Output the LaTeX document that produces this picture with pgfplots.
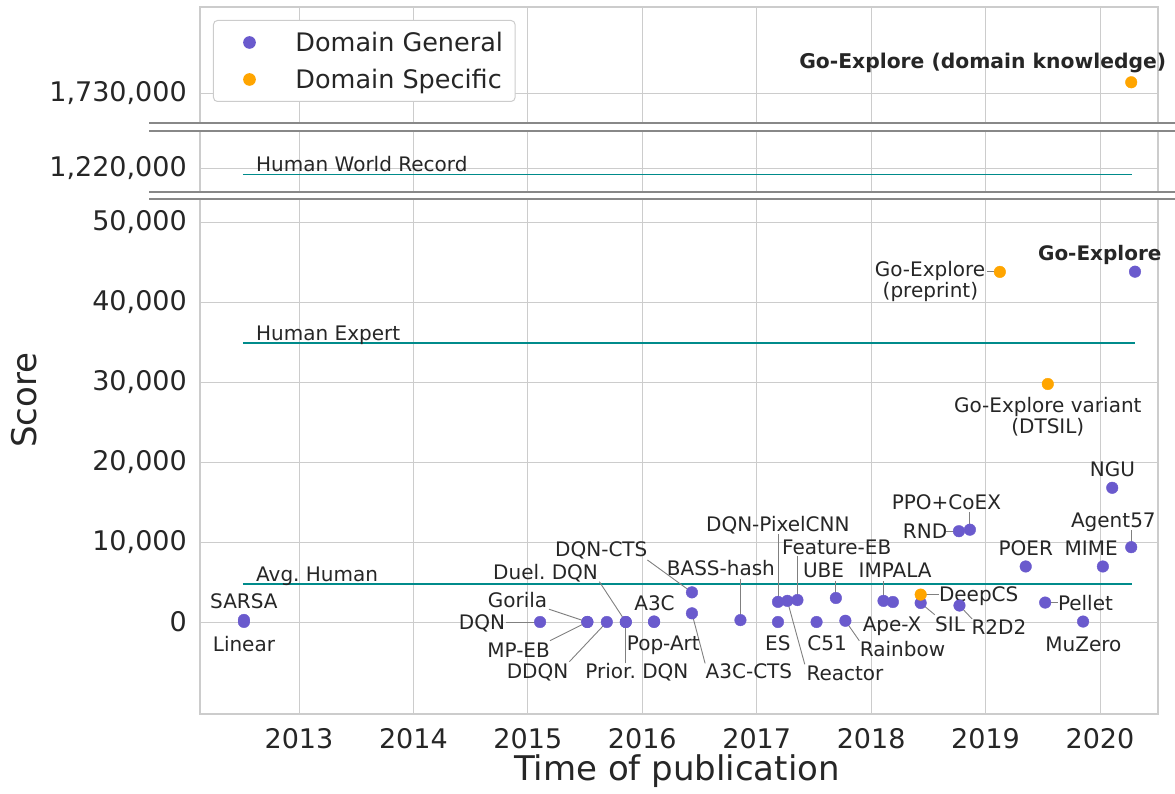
\documentclass[border=0pt]{standalone}
\usepackage{pgfplots}
\pgfplotsset{compat=1.18}
\usepackage{fontspec}
\setmainfont{DejaVu Sans}
\frenchspacing
\definecolor{purp}{HTML}{6A5ACD}
\definecolor{orng}{HTML}{FFA500}
\definecolor{tealc}{HTML}{008B8B}
\definecolor{gridc}{HTML}{CCCCCC}
\definecolor{txt}{HTML}{262626}
\definecolor{brk}{HTML}{888888}
\definecolor{conn}{HTML}{808080}
\newcommand\ann{\fontsize{20}{24}\selectfont}
\newcommand\midlab{1,220,000}
\newcommand\toplab{1,730,000}
\tikzset{
  lab/.style={font=\ann, text=txt, inner sep=0pt, text height=14.6pt, text depth=0pt, anchor=center},
  con/.style={draw=conn, line width=0.9pt},
}
\pgfplotsset{
  base/.style={
    scale only axis, width=958pt, anchor=south west,
    xmin=2012.135, xmax=2020.507,
    xtick={2013,2014,2015,2016,2017,2018,2019,2020},
    scaled y ticks=false, scaled x ticks=false,
    grid=major, major grid style={gridc, line width=0.9pt},
    axis line style={gridc, line width=1.1pt},
    major tick length=0pt,
    tick label style={font=\fontsize{27}{32}\selectfont, text=txt},
    yticklabel style={inner sep=0pt, xshift=-13pt},
    xticklabel style={inner sep=0pt, yshift=-14pt},
    clip=false,
  },
  gen/.style={only marks, mark=*, mark size=5.8pt, color=purp},
  spec/.style={only marks, mark=*, mark size=5.8pt, color=orng},
  hum/.style={no marks, tealc, line width=1.6pt},
}
\begin{document}
\begin{tikzpicture}
% ---------------- bottom panel ----------------
\begin{axis}[base, at={(200pt,79pt)}, height=515pt,
  ymin=-11500, ymax=52875,
  ytick={0,10000,20000,30000,40000,50000},
  yticklabels={0,{10,000},{20,000},{30,000},{40,000},{50,000}},
  xticklabels={2013,2014,2015,2016,2017,2018,2019,2020}]
\addplot[hum] coordinates {(2012.51,4753) (2020.28,4753)};
\addplot[hum] coordinates {(2012.51,34900) (2020.31,34900)};
\node[lab, anchor=west] at (axis cs:2012.624,6000) {Avg. Human};
\node[lab, anchor=west] at (axis cs:2012.624,36125) {Human Expert};
% connectors
\draw[con] (axis cs:2014.81,0) -- (axis cs:2015.107,0);
\draw[con] (axis cs:2015.185,1600) -- (axis cs:2015.52,0);
\draw[con] (axis cs:2015.194,-2330) -- (axis cs:2015.52,0);
\draw[con] (axis cs:2015.363,-4960) -- (axis cs:2015.69,0);
\draw[con] (axis cs:2015.625,5040) -- (axis cs:2015.856,0);
\draw[con] (axis cs:2015.856,-5170) -- (axis cs:2015.856,0);
\draw[con] (axis cs:2016.045,7750) -- (axis cs:2016.434,3705);
\draw[con] (axis cs:2016.549,-5170) -- (axis cs:2016.434,1085);
\draw[con] (axis cs:2016.858,5330) -- (axis cs:2016.858,238);
\draw[con] (axis cs:2017.186,10950) -- (axis cs:2017.186,2514);
\draw[con] (axis cs:2017.356,8190) -- (axis cs:2017.356,2745);
\draw[con] (axis cs:2017.42,-5290) -- (axis cs:2017.268,2643);
\draw[con] (axis cs:2017.692,5170) -- (axis cs:2017.692,3000);
\draw[con] (axis cs:2018.108,5100) -- (axis cs:2018.108,2643);
\draw[con] (axis cs:2017.897,-2350) -- (axis cs:2017.775,154);
\draw[con] (axis cs:2018.433,3425) -- (axis cs:2018.59,3425);
\draw[con] (axis cs:2018.556,910) -- (axis cs:2018.433,2375);
\draw[con] (axis cs:2018.883,375) -- (axis cs:2018.772,2061);
\draw[con] (axis cs:2018.656,11347) -- (axis cs:2018.767,11347);
\draw[con] (axis cs:2018.863,13750) -- (axis cs:2018.863,11540);
\draw[con] (axis cs:2019.521,2430) -- (axis cs:2019.63,2430);
\draw[con] (axis cs:2020.273,11460) -- (axis cs:2020.273,9352);
\draw[con] (axis cs:2019.011,43763) -- (axis cs:2019.125,43763);
% points
\addplot[gen] coordinates {
 (2012.519,259) (2012.519,11) (2015.107,0) (2015.520,4) (2015.520,0)
 (2015.690,0) (2015.856,0) (2015.856,0) (2016.103,67) (2016.103,0)
 (2016.434,3705) (2016.434,1085) (2016.858,238) (2017.186,0) (2017.186,2514)
 (2017.268,2643) (2017.356,2745) (2017.523,0) (2017.692,3000) (2017.775,154)
 (2018.108,2643) (2018.190,2500) (2018.433,2375) (2018.772,2061) (2018.767,11347)
 (2018.863,11540) (2019.351,6940) (2019.521,2430) (2019.852,57) (2020.025,6940)
 (2020.107,16775) (2020.273,9352) (2020.306,43791)};
\addplot[spec] coordinates {(2018.433,3425) (2019.125,43763) (2019.544,29750)};
% labels
\node[lab] at (axis cs:2012.519,2625) {SARSA};
\node[lab] at (axis cs:2012.519,-2750) {Linear};
\node[lab, anchor=east] at (axis cs:2014.802,0) {DQN};
\node[lab] at (axis cs:2014.91,2750) {Gorila};
\node[lab] at (axis cs:2014.919,-3500) {MP-EB};
\node[lab] at (axis cs:2015.085,-6125) {DDQN};
\node[lab] at (axis cs:2015.155,6250) {Duel. DQN};
\node[lab] at (axis cs:2015.953,-6200) {Prior. DQN};
\node[lab] at (axis cs:2016.107,2375) {A3C};
\node[lab] at (axis cs:2016.184,-2710) {Pop-Art};
\node[lab] at (axis cs:2015.642,9125) {DQN-CTS};
\node[lab] at (axis cs:2016.932,-6200) {A3C-CTS};
\node[lab] at (axis cs:2016.687,6710) {BASS-hash};
\node[lab] at (axis cs:2017.185,-2690) {ES};
\node[lab] at (axis cs:2017.185,12210) {DQN-PixelCNN};
\node[lab] at (axis cs:2017.699,9400) {Feature-EB};
\node[lab] at (axis cs:2017.771,-6410) {Reactor};
\node[lab] at (axis cs:2017.615,-2690) {C51};
\node[lab] at (axis cs:2017.584,6440) {UBE};
\node[lab] at (axis cs:2018.21,6440) {IMPALA};
\node[lab] at (axis cs:2018.274,-3400) {Rainbow};
\node[lab] at (axis cs:2018.183,-260) {Ape-X};
\node[lab] at (axis cs:2018.94,3425) {DeepCS};
\node[lab] at (axis cs:2018.69,-260) {SIL};
\node[lab] at (axis cs:2019.117,-680) {R2D2};
\node[lab] at (axis cs:2018.471,11325) {RND};
\node[lab] at (axis cs:2018.658,14925) {PPO+CoEX};
\node[lab] at (axis cs:2019.351,9275) {POER};
\node[lab] at (axis cs:2019.923,9275) {MIME};
\node[lab] at (axis cs:2019.873,2375) {Pellet};
\node[lab] at (axis cs:2019.855,-2775) {MuZero};
\node[lab] at (axis cs:2020.109,19110) {NGU};
\node[lab] at (axis cs:2020.117,12710) {Agent57};
\node[lab] at (axis cs:2018.515,44125) {Go-Explore};
\node[lab] at (axis cs:2018.518,41412) {(preprint)};
\node[lab, font=\ann\bfseries] at (axis cs:2019.998,46090) {Go-Explore};
\node[lab] at (axis cs:2019.544,27125) {Go-Explore variant};
\node[lab] at (axis cs:2019.544,24500) {(DTSIL)};
\end{axis}
% ---------------- middle panel ----------------
\begin{axis}[base, at={(200pt,601pt)}, height=61pt,
  ymin=1217037, ymax=1224662,
  ytick={1220000}, yticklabels={\midlab},
  xticklabels={}]
\addplot[hum] coordinates {(2012.51,1219200) (2020.28,1219200)};
\node[lab, anchor=west] at (axis cs:2012.624,1220500) {Human World Record};
\end{axis}
% ---------------- top panel ----------------
\begin{axis}[base, at={(200pt,670pt)}, height=116pt,
  ymin=1726312, ymax=1740812,
  ytick={1730000}, yticklabels={\toplab},
  xticklabels={},
  legend style={at={(axis description cs:0.01357,0.888)}, anchor=north west,
    draw=gridc, line width=1pt, rounded corners=4pt, fill=white,
    font=\fontsize{25.5}{30}\selectfont, text=txt,
    inner xsep=12pt, inner ysep=12.5pt, row sep=18pt,
    nodes={inner sep=0pt, text height=19pt, text depth=0pt}},
  legend cell align=left,
  legend image code/.code={\path[draw=none, fill=none] (-24pt,-6pt) rectangle (46pt,6pt); \draw[#1] plot coordinates {(0pt,0pt)};}]
\addlegendimage{gen}
\addlegendentry{Domain General}
\addplot[spec] coordinates {(2020.273,1731400)};
\addlegendentry{Domain Specific}
\node[lab, font=\fontsize{20.3}{24}\selectfont\bfseries] at (axis cs:2018.975,1734060) {Go-Explore (domain knowledge)};
\end{axis}
% break marks
\draw[brk, line width=2.5pt] (149pt,670pt) -- (1175pt,670pt);
\draw[brk, line width=2.5pt] (149pt,662pt) -- (1175pt,662pt);
\draw[brk, line width=2.5pt] (149pt,601pt) -- (1175pt,601pt);
\draw[brk, line width=2.5pt] (149pt,594pt) -- (1175pt,594pt);
% axis labels
\node[font=\fontsize{34}{40}\selectfont, text=txt, inner sep=0pt, anchor=base] at (677pt,13pt) {Time of publication};
\node[font=\fontsize{34}{40}\selectfont, text=txt, inner sep=0pt, anchor=base, rotate=90] at (36pt,393pt) {Score};
\pgfresetboundingbox
\path[use as bounding box] (0pt,0pt) rectangle (1175pt,793pt);
\end{tikzpicture}
\end{document}
